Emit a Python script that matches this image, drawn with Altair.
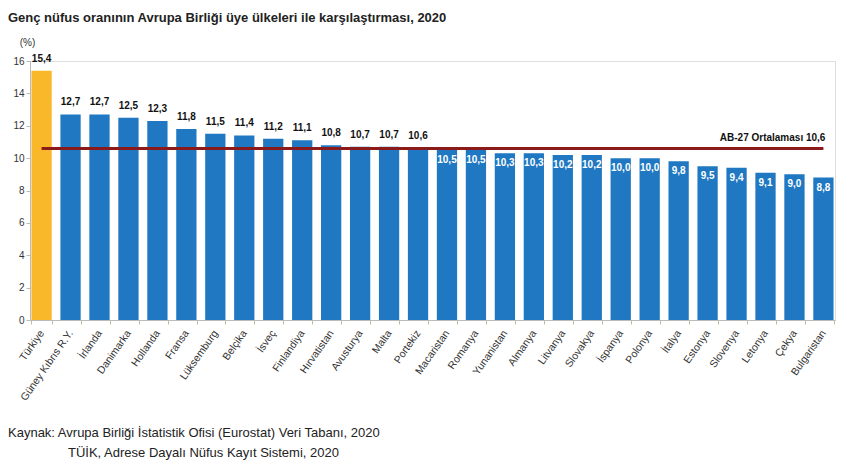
import altair as alt
import pandas as pd

countries = ["Türkiye", "Güney Kıbrıs R.Y.", "İrlanda", "Danimarka", "Hollanda", "Fransa",
             "Lüksemburg", "Belçika", "İsveç", "Finlandiya", "Hırvatistan", "Avusturya",
             "Malta", "Portekiz", "Macaristan", "Romanya", "Yunanistan", "Almanya",
             "Litvanya", "Slovakya", "İspanya", "Polonya", "İtalya", "Estonya",
             "Slovenya", "Letonya", "Çekya", "Bulgaristan"]
values = [15.4, 12.7, 12.7, 12.5, 12.3, 11.8, 11.5, 11.4, 11.2, 11.1, 10.8, 10.7,
          10.7, 10.6, 10.5, 10.5, 10.3, 10.3, 10.2, 10.2, 10.0, 10.0, 9.8, 9.5,
          9.4, 9.1, 9.0, 8.8]
eu_average = 10.6
title_text = "Genç nüfus oranının Avrupa Birliği üye ülkeleri ile karşılaştırması, 2020"
source_lines = ["Kaynak: Avrupa Birliği İstatistik Ofisi (Eurostat) Veri Tabanı, 2020",
                "TÜİK, Adrese Dayalı Nüfus Kayıt Sistemi, 2020"]
avg_label = "AB-27 Ortalaması  10,6"

df = pd.DataFrame({"country": countries, "value": values})
df["label"] = df["value"].map(lambda v: f"{v:.1f}".replace(".", ","))
df["highlight"] = df["country"].eq("Türkiye")
df["above"] = df["value"] >= eu_average

x_scale = alt.Scale(domain=countries, paddingInner=0.3, paddingOuter=0.05)
x_axis = alt.Axis(title=None, labelAngle=-55, labelFontSize=10.5, labelColor="#333",
                  labelFont="Liberation Sans", tickBand="extent", domainColor="#bbb",
                  tickColor="#c8b89a", tickSize=4, labelPadding=7)
y_scale = alt.Scale(domain=[0, 16])
y_axis = alt.Axis(title="(%)", titleAngle=0, titleX=-3, titleY=-14, titleAlign="center",
                  titleFontWeight="normal", titleFontSize=10, titleColor="#333",
                  titleFont="Liberation Sans",
                  values=list(range(0, 17, 2)), grid=False, labelFontSize=10,
                  labelColor="#333", labelFont="Liberation Sans", labelOverlap=False,
                  domainColor="#bbb", tickColor="#bbb", tickSize=4)


def xe(field):
    return alt.X(field, scale=x_scale, axis=x_axis)


def ye(field):
    return alt.Y(field, scale=y_scale, axis=y_axis)


base = alt.Chart(df)

bars = base.mark_bar().encode(
    x=xe("country:N"), y=ye("value:Q"),
    color=alt.condition(alt.datum.highlight, alt.value("#F9B72A"), alt.value("#1F78C1")),
)

labels_above = base.transform_filter(alt.datum.above).mark_text(
    dy=-7, fontSize=10, fontWeight="bold", color="#111", font="Liberation Sans", baseline="bottom"
).encode(x=xe("country:N"), y=ye("value:Q"), text="label:N")

labels_inside = base.transform_filter(~alt.datum.above).mark_text(
    dy=5, fontSize=10, fontWeight="bold", color="white", font="Liberation Sans", baseline="top"
).encode(x=xe("country:N"), y=ye("value:Q"), text="label:N")

avg_df = pd.DataFrame({"start": [countries[0]], "end": [countries[-1]], "avg": [eu_average],
                       "text": [avg_label]})
avg_rule = alt.Chart(avg_df).mark_rule(color="#8B1A1A", strokeWidth=3).encode(
    x=xe("start:N"), x2="end:N", y=ye("avg:Q"))
avg_text = alt.Chart(avg_df).mark_text(
    align="right", baseline="bottom", dy=-5, dx=2, fontSize=10, fontWeight="bold",
    color="#111", font="Liberation Sans"
).encode(x=xe("end:N"), y=ye("avg:Q"), text="text:N")

title = alt.Chart(pd.DataFrame({"t": [title_text]})).mark_text(
    align="left", baseline="alphabetic", fontSize=13, fontWeight="bold", color="#222",
    font="Liberation Sans"
).encode(x=alt.value(-22), y=alt.value(-39), text="t:N")

src1 = alt.Chart(pd.DataFrame({"t": [source_lines[0]]})).mark_text(
    align="left", baseline="alphabetic", fontSize=13, color="#222", font="Liberation Sans"
).encode(x=alt.value(-22), y=alt.value(376), text="t:N")
src2 = alt.Chart(pd.DataFrame({"t": [source_lines[1]]})).mark_text(
    align="left", baseline="alphabetic", fontSize=13, color="#222", font="Liberation Sans"
).encode(x=alt.value(38), y=alt.value(396), text="t:N")

chart = alt.layer(bars, labels_above, labels_inside, avg_rule, avg_text, title, src1, src2).properties(
    width=805, height=259,
    autosize=alt.AutoSizeParams(type="none"),
    padding={"left": 22, "top": 53, "right": 7, "bottom": 140},
).configure_view(stroke=None).configure(background="white")

chart.save("out.html", embed_options={"renderer": "svg", "actions": False})
